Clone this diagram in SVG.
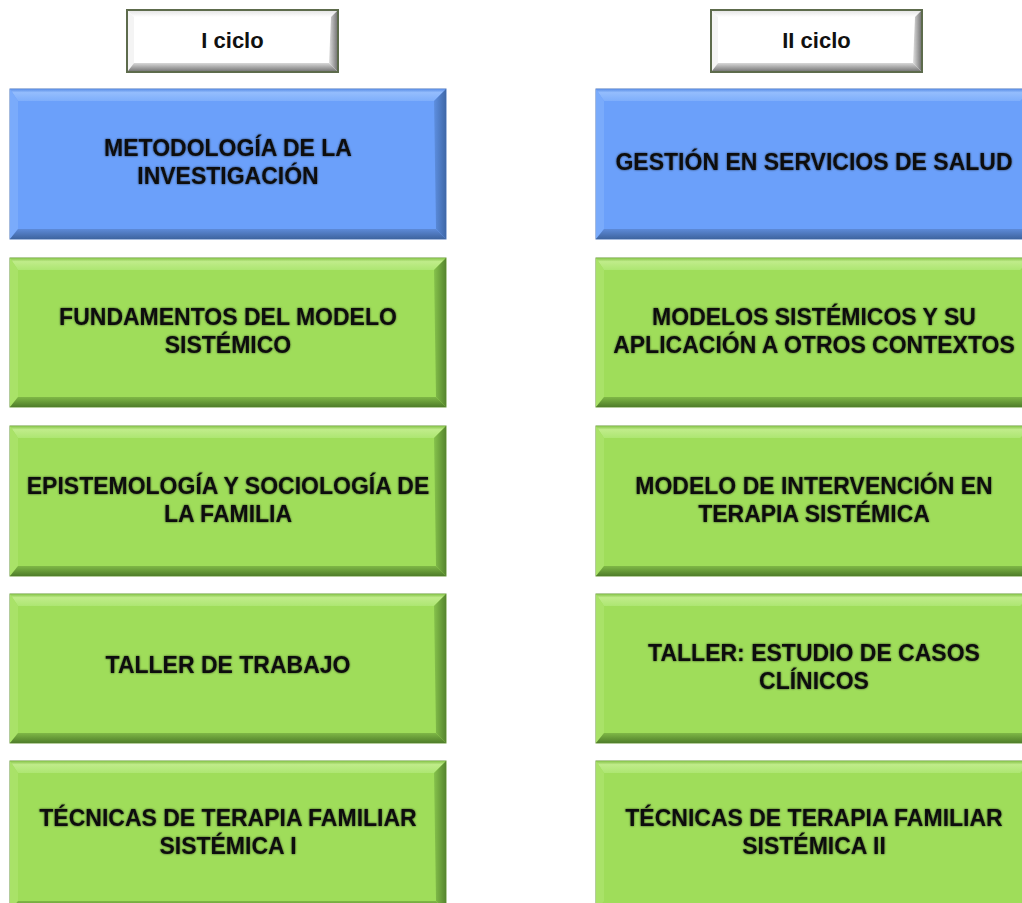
<svg xmlns="http://www.w3.org/2000/svg" width="1022" height="903" viewBox="0 0 1022 903">
<defs>
<style>
.t{font-family:"Liberation Sans",Arial,sans-serif;font-weight:bold;font-size:23px;fill:#111;text-anchor:middle;}
.h{font-family:"Liberation Sans",Arial,sans-serif;font-weight:bold;font-size:22px;fill:#111;text-anchor:middle;}
.bB{fill:#6ba0fa;stroke:#4f78bd;stroke-width:1}
.bG{fill:#9fdd5a;stroke:#6a9a3a;stroke-width:1}
.bW{fill:#ffffff;stroke:#5d6b4c;stroke-width:2}
.topB{fill:url(#gTopB)} .botB{fill:url(#gBotB)} .lB{fill:#7aabfb} .rB{fill:url(#gRB)}
.topG{fill:url(#gTopG)} .botG{fill:url(#gBotG)} .lG{fill:#a9e268} .rG{fill:url(#gRG)}
.topW{fill:url(#gTopW)} .botW{fill:url(#gBotW)} .lW{fill:#f4f4f4} .rW{fill:url(#gRW)}
</style>
<linearGradient id="gTopB" x1="0" y1="0" x2="0" y2="1"><stop offset="0" stop-color="#5b8ee6"/><stop offset="0.3" stop-color="#94bdfd"/><stop offset="1" stop-color="#7eaefb"/></linearGradient>
<linearGradient id="gBotB" x1="0" y1="0" x2="0" y2="1"><stop offset="0" stop-color="#5d8ad8"/><stop offset="1" stop-color="#3e649f"/></linearGradient>
<linearGradient id="gRB" x1="0" y1="0" x2="1" y2="0"><stop offset="0" stop-color="#5e8fe0"/><stop offset="1" stop-color="#3f68a8"/></linearGradient>
<linearGradient id="gTopG" x1="0" y1="0" x2="0" y2="1"><stop offset="0" stop-color="#86c34a"/><stop offset="0.3" stop-color="#c0ec8a"/><stop offset="1" stop-color="#ade672"/></linearGradient>
<linearGradient id="gBotG" x1="0" y1="0" x2="0" y2="1"><stop offset="0" stop-color="#7fb846"/><stop offset="1" stop-color="#4f7d2a"/></linearGradient>
<linearGradient id="gRG" x1="0" y1="0" x2="1" y2="0"><stop offset="0" stop-color="#86c24c"/><stop offset="1" stop-color="#56852e"/></linearGradient>
<linearGradient id="gTopW" x1="0" y1="0" x2="0" y2="1"><stop offset="0" stop-color="#e6e6e6"/><stop offset="1" stop-color="#ffffff"/></linearGradient>
<linearGradient id="gBotW" x1="0" y1="0" x2="0" y2="1"><stop offset="0" stop-color="#d8d8d8"/><stop offset="1" stop-color="#7a7a7a"/></linearGradient>
<linearGradient id="gRW" x1="0" y1="0" x2="1" y2="0"><stop offset="0" stop-color="#e0e0e0"/><stop offset="1" stop-color="#7a7a7a"/></linearGradient>
<filter id="glow" x="-10%" y="-30%" width="120%" height="160%">
<feGaussianBlur in="SourceAlpha" stdDeviation="1.2" result="b"/>
<feFlood flood-color="#000" flood-opacity="0.65"/>
<feComposite in2="b" operator="in" result="s"/>
<feMerge><feMergeNode in="s"/><feMergeNode in="SourceGraphic"/></feMerge>
</filter>
</defs>
<rect width="1022" height="903" fill="#ffffff"/>

<g id="header-1">
<rect class="bW" x="127" y="10" width="211" height="62"/>
<polygon class="topW" points="128,11 337,11 331,17 134,17"/>
<polygon class="lW" points="128,11 134,17 134,63 128,71"/>
<polygon class="rW" points="337,11 337,71 329,63 331,17"/>
<polygon class="botW" points="128,71 134,63 329,63 337,71"/>
<text class="h" x="232.5" y="48">I ciclo</text>
</g>
<g id="header-2">
<rect class="bW" x="711" y="10" width="211" height="62"/>
<polygon class="topW" points="712,11 921,11 915,17 718,17"/>
<polygon class="lW" points="712,11 718,17 718,63 712,71"/>
<polygon class="rW" points="921,11 921,71 913,63 915,17"/>
<polygon class="botW" points="712,71 718,63 913,63 921,71"/>
<text class="h" x="816.5" y="48">II ciclo</text>
</g>

<g id="n-metodologia">
<rect class="bB" x="10" y="89" width="436" height="150"/>
<polygon class="topB" points="10,89 446,89 434,101 18,101"/>
<polygon class="lB" points="10,89 18,101 18,229 10,239"/>
<polygon class="rB" points="446,89 446,239 436,229 434,101"/>
<polygon class="botB" points="10,239 18,229 436,229 446,239"/>
<g filter="url(#glow)"><text class="t" x="228" y="156">METODOLOGÍA DE LA</text><text class="t" x="228" y="184">INVESTIGACIÓN</text></g>
</g>
<g id="n-fundamentos">
<rect class="bG" x="10" y="258" width="436" height="149"/>
<polygon class="topG" points="10,258 446,258 434,270 18,270"/>
<polygon class="lG" points="10,258 18,270 18,397 10,407"/>
<polygon class="rG" points="446,258 446,407 436,397 434,270"/>
<polygon class="botG" points="10,407 18,397 436,397 446,407"/>
<g filter="url(#glow)"><text class="t" x="228" y="325">FUNDAMENTOS DEL MODELO</text><text class="t" x="228" y="353">SISTÉMICO</text></g>
</g>
<g id="n-epistemologia">
<rect class="bG" x="10" y="426" width="436" height="150"/>
<polygon class="topG" points="10,426 446,426 434,438 18,438"/>
<polygon class="lG" points="10,426 18,438 18,566 10,576"/>
<polygon class="rG" points="446,426 446,576 436,566 434,438"/>
<polygon class="botG" points="10,576 18,566 436,566 446,576"/>
<g filter="url(#glow)"><text class="t" x="228" y="494">EPISTEMOLOGÍA Y SOCIOLOGÍA DE</text><text class="t" x="228" y="522">LA FAMILIA</text></g>
</g>
<g id="n-taller-trabajo">
<rect class="bG" x="10" y="594" width="436" height="149"/>
<polygon class="topG" points="10,594 446,594 434,606 18,606"/>
<polygon class="lG" points="10,594 18,606 18,733 10,743"/>
<polygon class="rG" points="446,594 446,743 436,733 434,606"/>
<polygon class="botG" points="10,743 18,733 436,733 446,743"/>
<g filter="url(#glow)"><text class="t" x="228" y="673">TALLER DE TRABAJO</text></g>
</g>
<g id="n-tecnicas-1">
<rect class="bG" x="10" y="761" width="436" height="150"/>
<polygon class="topG" points="10,761 446,761 434,773 18,773"/>
<polygon class="lG" points="10,761 18,773 18,901 10,911"/>
<polygon class="rG" points="446,761 446,911 436,901 434,773"/>
<polygon class="botG" points="10,911 18,901 436,901 446,911"/>
<g filter="url(#glow)"><text class="t" x="228" y="826">TÉCNICAS DE TERAPIA FAMILIAR</text><text class="t" x="228" y="854">SISTÉMICA I</text></g>
</g>

<g id="n-gestion">
<rect class="bB" x="596" y="89" width="436" height="150"/>
<polygon class="topB" points="596,89 1032,89 1020,101 604,101"/>
<polygon class="lB" points="596,89 604,101 604,229 596,239"/>
<polygon class="botB" points="596,239 604,229 1022,229 1032,239"/>
<g filter="url(#glow)"><text class="t" x="814" y="170">GESTIÓN EN SERVICIOS DE SALUD</text></g>
</g>
<g id="n-modelos">
<rect class="bG" x="596" y="258" width="436" height="149"/>
<polygon class="topG" points="596,258 1032,258 1020,270 604,270"/>
<polygon class="lG" points="596,258 604,270 604,397 596,407"/>
<polygon class="botG" points="596,407 604,397 1022,397 1032,407"/>
<g filter="url(#glow)"><text class="t" x="814" y="325">MODELOS SISTÉMICOS Y SU</text><text class="t" x="814" y="353">APLICACIÓN A OTROS CONTEXTOS</text></g>
</g>
<g id="n-intervencion">
<rect class="bG" x="596" y="426" width="436" height="150"/>
<polygon class="topG" points="596,426 1032,426 1020,438 604,438"/>
<polygon class="lG" points="596,426 604,438 604,566 596,576"/>
<polygon class="botG" points="596,576 604,566 1022,566 1032,576"/>
<g filter="url(#glow)"><text class="t" x="814" y="494">MODELO DE INTERVENCIÓN EN</text><text class="t" x="814" y="522">TERAPIA SISTÉMICA</text></g>
</g>
<g id="n-taller-casos">
<rect class="bG" x="596" y="594" width="436" height="149"/>
<polygon class="topG" points="596,594 1032,594 1020,606 604,606"/>
<polygon class="lG" points="596,594 604,606 604,733 596,743"/>
<polygon class="botG" points="596,743 604,733 1022,733 1032,743"/>
<g filter="url(#glow)"><text class="t" x="814" y="661">TALLER: ESTUDIO DE CASOS</text><text class="t" x="814" y="689">CLÍNICOS</text></g>
</g>
<g id="n-tecnicas-2">
<rect class="bG" x="596" y="761" width="436" height="150"/>
<polygon class="topG" points="596,761 1032,761 1020,773 604,773"/>
<polygon class="lG" points="596,761 604,773 604,901 596,911"/>
<g filter="url(#glow)"><text class="t" x="814" y="826">TÉCNICAS DE TERAPIA FAMILIAR</text><text class="t" x="814" y="854">SISTÉMICA II</text></g>
</g>
<g id="connectors"/>
</svg>
